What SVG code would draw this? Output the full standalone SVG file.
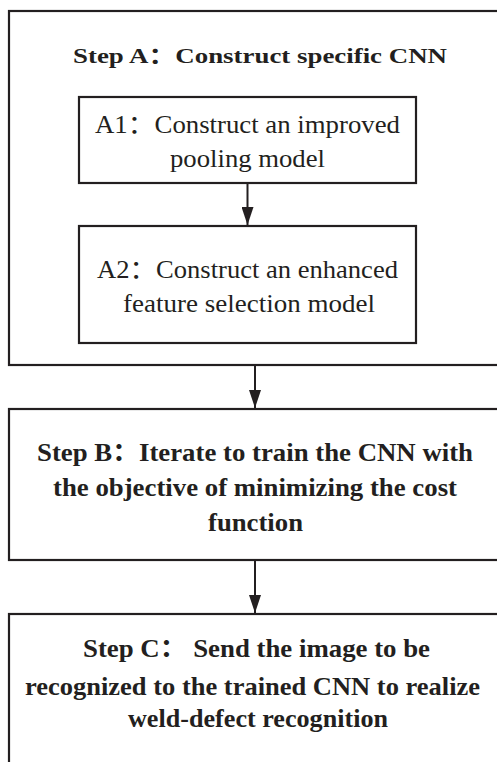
<svg xmlns="http://www.w3.org/2000/svg" width="497" height="762" viewBox="0 0 497 762">
<style>
.box{fill:none;stroke:#231f20;stroke-width:2.2}
.conn{fill:none;stroke:#231f20;stroke-width:2}
.b{font-family:"Liberation Serif",serif;font-weight:bold;fill:#231f20;text-anchor:middle}
.r{font-family:"Liberation Serif",serif;fill:#231f20;text-anchor:middle;font-size:25px}
.cj{font-family:"Noto Sans CJK SC",sans-serif}
</style>
<defs>
<marker id="ah" markerUnits="userSpaceOnUse" markerWidth="18" markerHeight="12" refX="18" refY="6" orient="auto">
<path d="M0,0 L18,6 L0,12 z" fill="#231f20"/>
</marker>
</defs>
<rect width="497" height="762" fill="#fff"/>
<g id="stepA">
<rect class="box" x="9" y="11" width="500" height="354"/>
<text class="b" x="260" y="63" font-size="22" textLength="374" lengthAdjust="spacingAndGlyphs">Step A<tspan class="cj">：</tspan>Construct specific CNN</text>
</g>
<g id="A1">
<rect class="box" x="79" y="97" width="337" height="86"/>
<text class="r" x="247.5" y="133" textLength="305" lengthAdjust="spacingAndGlyphs">A1<tspan class="cj">：</tspan>Construct an improved</text>
<text class="r" x="247.5" y="167" textLength="155" lengthAdjust="spacingAndGlyphs">pooling model</text>
</g>
<g id="A2">
<rect class="box" x="79" y="226" width="337" height="117"/>
<text class="r" x="247.5" y="278" textLength="301" lengthAdjust="spacingAndGlyphs">A2<tspan class="cj">：</tspan>Construct an enhanced</text>
<text class="r" x="249" y="312" textLength="252" lengthAdjust="spacingAndGlyphs">feature selection model</text>
</g>
<g id="stepB">
<rect class="box" x="9" y="409" width="500" height="151"/>
<text class="b" x="255" y="461" font-size="26" textLength="436" lengthAdjust="spacingAndGlyphs">Step B<tspan class="cj">：</tspan>Iterate to train the CNN with</text>
<text class="b" x="255" y="496" font-size="26" textLength="404" lengthAdjust="spacingAndGlyphs">the objective of minimizing the cost</text>
<text class="b" x="255.5" y="531" font-size="26" textLength="95" lengthAdjust="spacingAndGlyphs">function</text>
</g>
<g id="stepC">
<rect class="box" x="9" y="614" width="500" height="160"/>
<text class="b" x="256.5" y="657" font-size="26" textLength="347" lengthAdjust="spacingAndGlyphs">Step C<tspan class="cj">：</tspan> Send the image to be</text>
<text class="b" x="252.5" y="695" font-size="26" textLength="455" lengthAdjust="spacingAndGlyphs">recognized to the trained CNN to realize</text>
<text class="b" x="258" y="727" font-size="26" textLength="260" lengthAdjust="spacingAndGlyphs">weld-defect recognition</text>
</g>
<g id="connectors">
<line class="conn" x1="247.5" y1="183" x2="247.5" y2="225" marker-end="url(#ah)"/>
<line class="conn" x1="255" y1="365" x2="255" y2="408" marker-end="url(#ah)"/>
<line class="conn" x1="255" y1="560" x2="255" y2="613" marker-end="url(#ah)"/>
</g>
</svg>
